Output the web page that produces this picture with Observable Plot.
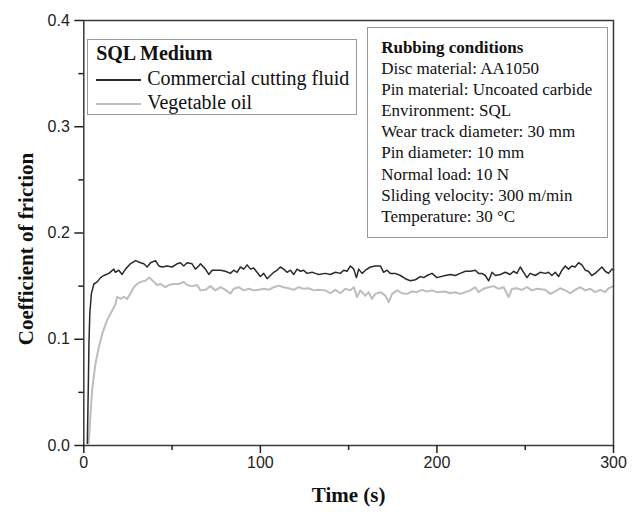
<!DOCTYPE html>
<html><head><meta charset="utf-8">
<script src="https://cdn.jsdelivr.net/npm/d3@7"></script>
<script src="https://cdn.jsdelivr.net/npm/@observablehq/plot@0.6"></script>
<style>
body{margin:0;background:#fff;}
#wrap{position:relative;width:641px;height:514px;overflow:hidden;}
#wrap svg{position:absolute;left:0;top:0;}
.box{position:absolute;box-sizing:border-box;border:1.5px solid #999;font-family:"Liberation Serif","Times New Roman",serif;color:#111;white-space:nowrap;}
#legend{left:86.7px;top:39.3px;width:270.6px;height:75.7px;padding:1px 0 0 8.5px;font-size:20px;line-height:24.3px;}
#cond{left:366.7px;top:27px;width:241.3px;height:211.3px;padding:9px 0 0 13.5px;font-size:17px;line-height:21.1px;}
.ttl{font-weight:bold;}
.sw{display:inline-block;width:45px;height:0;border-top:2px solid;vertical-align:middle;margin-right:6px;}
</style>
</head><body>
<div id="wrap"></div>
<script>
// Series: [time (s), coefficient of friction]
const commercial = [
  [2.0,0.002],[2.6,0.06],[2.9,0.095],[3.4,0.124],[4.3,0.143],[5.7,0.152],[7.6,0.154],[9.5,0.158],[11.3,0.160],[14.2,0.162],
  [17.0,0.166],[17.9,0.163],[19.8,0.165],[21.7,0.161],[23.6,0.166],[26.4,0.171],[29.3,0.174],[32.1,0.172],[34.0,0.171],[35.9,0.168],
  [37.8,0.172],[40.6,0.174],[42.5,0.169],[44.4,0.168],[47.2,0.169],[50.0,0.168],[52.8,0.171],[54.7,0.172],[56.6,0.169],[58.5,0.172],
  [61.3,0.171],[63.2,0.166],[65.1,0.169],
  [66.1,0.171],[68.9,0.166],[70.8,0.161],[72.7,0.165],[74.5,0.165],[77.4,0.165],[80.2,0.164],[83.0,0.162],[84.9,0.165],[86.8,0.163],
  [88.7,0.168],[90.6,0.166],[92.5,0.170],[94.4,0.166],[96.2,0.167],[98.1,0.163],[100.0,0.159],[101.9,0.162],[103.8,0.157],[105.7,0.160],
  [107.6,0.163],[109.5,0.165],[111.3,0.168],[113.2,0.166],[115.1,0.163],[117.0,0.165],[118.9,0.161],[120.8,0.166],[122.7,0.164],[124.5,0.165],
  [126.4,0.162],[129.3,0.163],[131.2,0.162],[133.0,0.161],
  [136.8,0.162],[139.6,0.161],[142.5,0.163],[145.3,0.162],[147.2,0.165],[149.1,0.164],[151.0,0.169],[152.9,0.166],[154.4,0.158],[155.7,0.166],
  [157.6,0.162],[159.5,0.165],[162.3,0.168],[165.1,0.169],[168.0,0.169],[169.8,0.163],[171.7,0.165],[173.6,0.162],[176.4,0.162],[179.3,0.160],
  [182.1,0.157],[184.9,0.155],[187.8,0.156],[190.6,0.159],[192.5,0.158],[194.4,0.160],[197.2,0.162],[200.0,0.158],
  [204.7,0.160],[207.6,0.161],[210.4,0.160],[213.2,0.162],[216.1,0.164],[218.9,0.164],[221.7,0.165],[223.6,0.162],[225.5,0.162],[227.4,0.160],
  [229.3,0.155],[231.2,0.163],[233.1,0.160],[235.9,0.161],[238.7,0.163],[241.5,0.161],[243.4,0.164],[245.3,0.162],[247.2,0.168],[249.1,0.163],
  [251.0,0.158],[252.8,0.162],[255.7,0.160],
  [258.5,0.163],[261.3,0.162],[263.2,0.163],[265.1,0.160],[267.0,0.163],[268.9,0.159],[270.8,0.165],[272.7,0.169],[274.5,0.166],[276.4,0.169],
  [278.3,0.168],[280.2,0.172],[282.1,0.170],[284.0,0.165],[285.8,0.164],[287.7,0.160],[289.6,0.162],[291.5,0.165],[293.4,0.168],[295.3,0.164],
  [297.2,0.162],[299.1,0.166],[300,0.165]
];
const vegetable = [
  [2.8,0.002],[3.8,0.030],[4.7,0.052],[6.6,0.077],[8.5,0.0925],[10.4,0.105],[13.2,0.118],[16.1,0.127],[17.9,0.133],[18.9,0.140],
  [20.8,0.138],[22.6,0.140],[24.5,0.138],[26.4,0.143],[28.3,0.149],[30.2,0.152],[32.1,0.154],[34.9,0.155],[36.8,0.158],[37.8,0.157],
  [39.7,0.154],[41.5,0.151],[43.4,0.152],[46.2,0.149],[48.1,0.151],[51.0,0.152],[53.8,0.152],[56.6,0.154],[58.5,0.151],[61.3,0.150],[64.2,0.151],
  [66.1,0.146],[68.9,0.1465],[71.7,0.150],[74.5,0.146],[77.4,0.149],[80.2,0.1465],[83.0,0.143],[84.9,0.1475],[87.7,0.149],[90.6,0.146],
  [93.4,0.1475],[96.2,0.146],[99.1,0.1465],[101.9,0.1475],[104.7,0.1465],[107.6,0.149],[110.4,0.1505],[113.2,0.149],[116.0,0.148],[118.9,0.1465],
  [121.7,0.149],[124.5,0.1475],[127.4,0.148],[130.2,0.146],[133.0,0.1465],
  [136.8,0.146],[139.6,0.1433],[142.5,0.1465],[145.3,0.1433],[148.1,0.1475],[151.0,0.146],[152.9,0.149],[154.8,0.1396],[156.6,0.146],[159.5,0.141],
  [161.3,0.1443],[163.2,0.138],[165.1,0.1427],[168.0,0.1443],[170.8,0.141],[172.7,0.135],[174.6,0.1427],[177.4,0.146],[180.2,0.1433],[183.1,0.1427],
  [185.9,0.145],[188.7,0.1443],[191.5,0.1465],[194.4,0.145],[197.2,0.146],[200.0,0.1443],
  [204.7,0.145],[207.6,0.1433],[210.4,0.1443],[213.2,0.1427],[216.1,0.1443],[218.9,0.146],[221.7,0.149],[223.6,0.1443],[226.4,0.1475],[229.3,0.149],
  [232.1,0.150],[234.9,0.1475],[237.8,0.149],[240.6,0.1396],[242.5,0.1475],[245.3,0.148],[248.1,0.1465],[251.0,0.149],[253.8,0.146],[256.6,0.1475],
  [261.3,0.1465],[264.2,0.1427],[267.0,0.145],[269.8,0.148],[272.7,0.146],[275.5,0.1433],[278.3,0.1465],[281.1,0.149],[284.0,0.146],[286.8,0.1475],
  [289.6,0.1443],[292.5,0.1465],[295.3,0.1443],[297.2,0.148],[300,0.150]
];
const seriesNames = ["Commercial cutting fluid", "Vegetable oil"];
const seriesColors = ["#2b2b2b", "#bdbdbd"];
const legendTitle = "SQL Medium";
const xMajor = [0, 100, 200, 300];
const xMinor = [50, 150, 250];
const yMajor = [0, 0.1, 0.2, 0.3, 0.4];
const yMinor = [0.05, 0.15, 0.25, 0.35];
const xTitle = "Time (s)";
const yTitle = "Coefficient of friction";
const conditionsTitle = "Rubbing conditions";
const conditions = [
  "Disc material: AA1050",
  "Pin material: Uncoated carbide",
  "Environment: SQL",
  "Wear track diameter: 30 mm",
  "Pin diameter: 10 mm",
  "Normal load: 10 N",
  "Sliding velocity: 300 m/min",
  "Temperature: 30 °C"
];

const serif = "Liberation Serif, Times New Roman, serif";
const chart = Plot.plot({
  width: 641, height: 514,
  marginLeft: 83.3, marginRight: 28, marginTop: 20, marginBottom: 69,
  x: {domain: [0, 300]},
  y: {domain: [0, 0.4]},
  style: {fontFamily: "Liberation Sans, Arial, sans-serif", background: "transparent", color: "#222"},
  marks: [
    Plot.line(vegetable, {x: d => d[0], y: d => d[1], stroke: seriesColors[1], strokeWidth: 2}),
    Plot.line(commercial, {x: d => d[0], y: d => d[1], stroke: seriesColors[0], strokeWidth: 1.5}),
    Plot.frame({stroke: "#3a3a3a", strokeWidth: 1.5}),
    Plot.axisX({ticks: xMajor, tickSize: 8, tickPadding: 3, fontSize: 16, tickFormat: d3.format("d"), label: null, strokeWidth: 1.5}),
    Plot.axisX({ticks: xMinor, tickSize: 5, fill: "none", label: null, strokeWidth: 1.5}),
    Plot.axisY({ticks: yMajor, tickSize: 9, tickPadding: 5, fontSize: 16, tickFormat: d3.format(".1f"), label: null, strokeWidth: 1.5}),
    Plot.axisY({ticks: yMinor, tickSize: 5, fill: "none", label: null, strokeWidth: 1.5}),
    Plot.text([xTitle], {text: d => d, frameAnchor: "bottom", textAnchor: "middle", dy: 56, fontFamily: serif, fontWeight: "bold", fontSize: 21, fill: "#111"}),
    Plot.text([yTitle], {text: d => d, frameAnchor: "left", textAnchor: "middle", rotate: -90, dx: -58, dy: 16, fontFamily: serif, fontWeight: "bold", fontSize: 21, fill: "#111"})
  ]
});
const wrap = document.getElementById("wrap");
wrap.appendChild(chart);

const legend = document.createElement("div");
legend.className = "box"; legend.id = "legend";
legend.innerHTML = `<div class="ttl">${legendTitle}</div>` +
  seriesNames.map((n, i) => `<div><span class="sw" style="border-color:${seriesColors[i]}"></span>${n}</div>`).join("");
wrap.appendChild(legend);

const cond = document.createElement("div");
cond.className = "box"; cond.id = "cond";
cond.innerHTML = `<div class="ttl">${conditionsTitle}</div>` + conditions.map(c => `<div>${c}</div>`).join("");
wrap.appendChild(cond);
</script>
</body></html>
